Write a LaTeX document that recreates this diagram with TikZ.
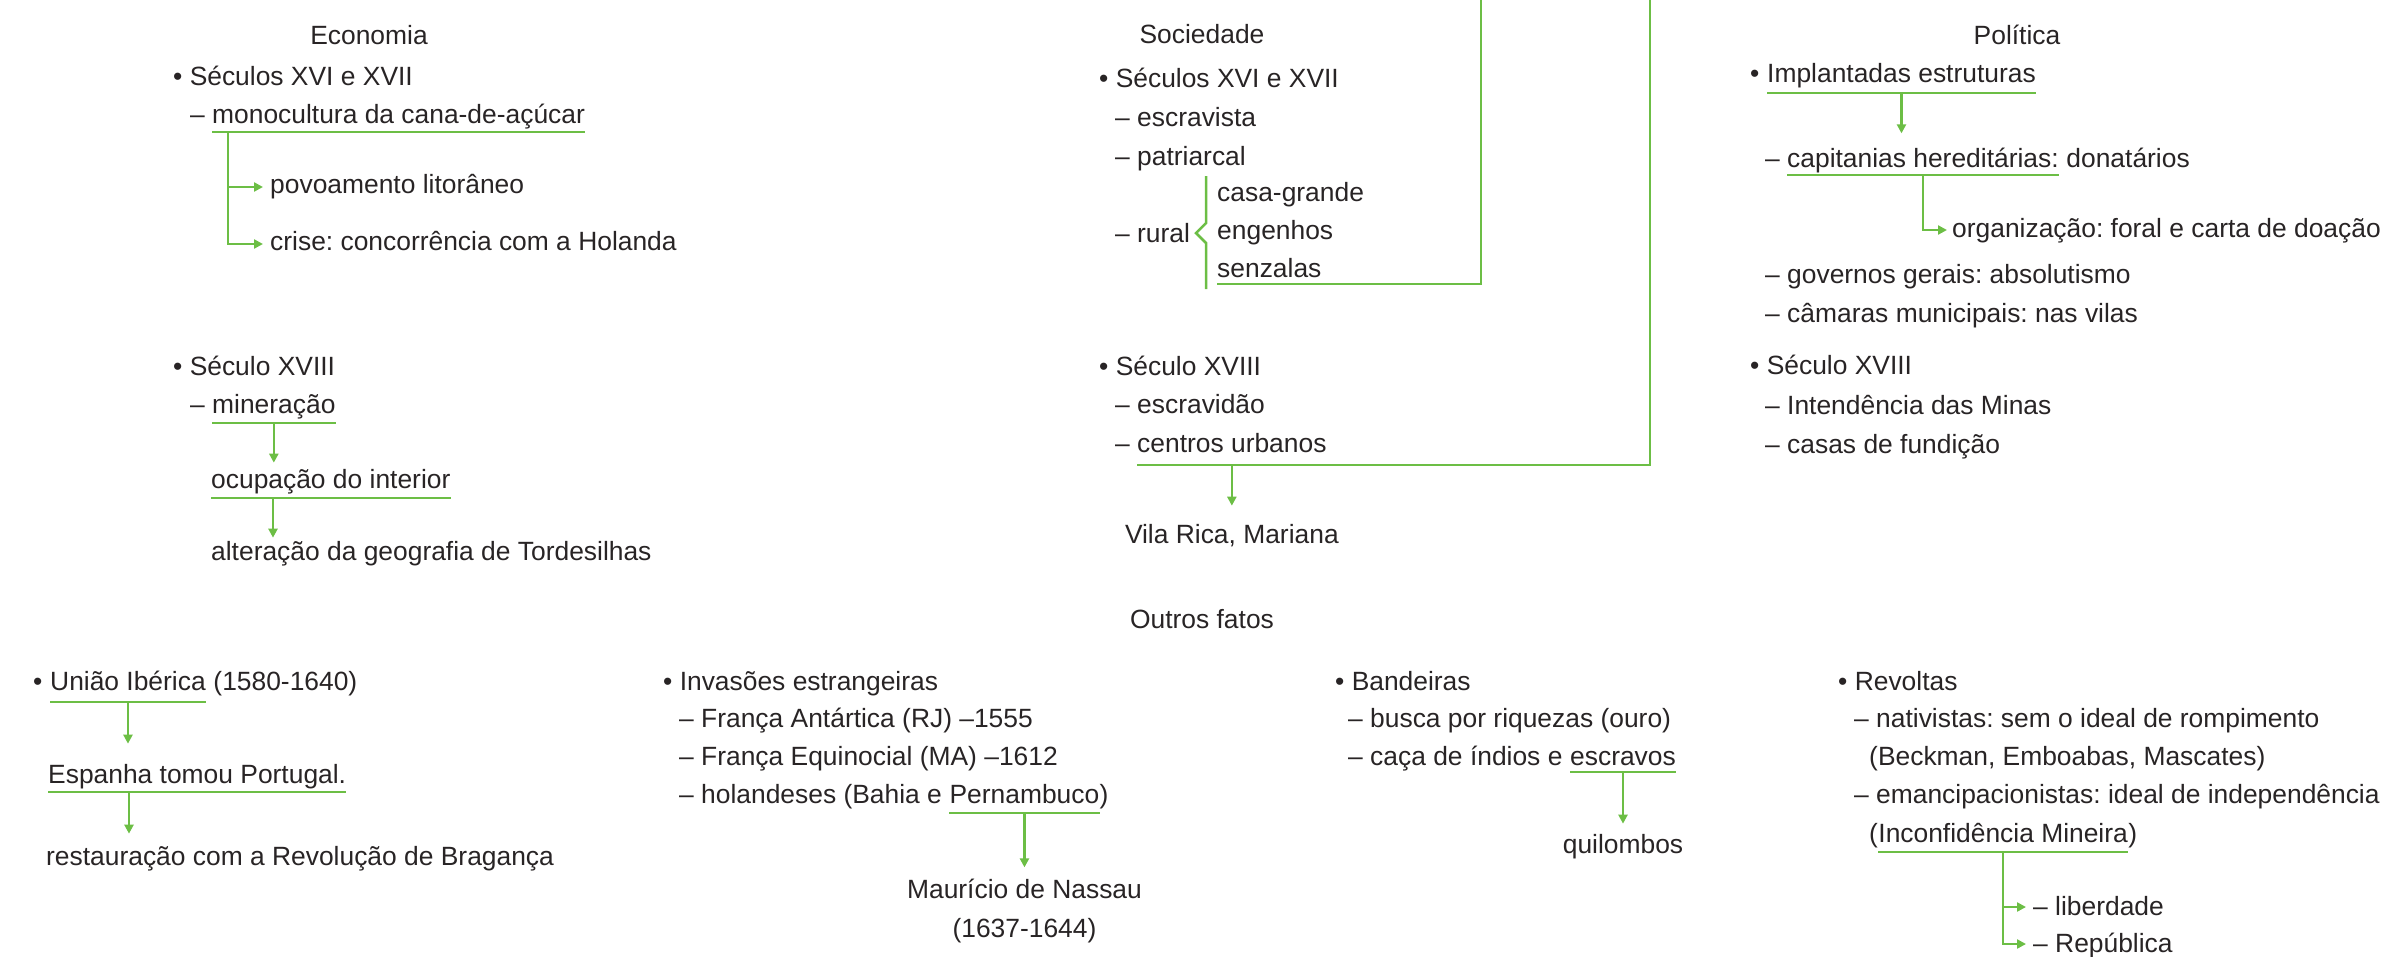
\documentclass[tikz,border=0pt]{standalone}
\usepackage{fontspec}
\setmainfont{Liberation Sans}
\usetikzlibrary{arrows.meta}
\frenchspacing

\definecolor{mapgreen}{RGB}{108,190,69}
\definecolor{ink}{RGB}{40,36,37}

\tikzset{
	txt/.style={anchor=base west, inner sep=0pt, text=ink, font=\fontsize{26.4}{32}\selectfont},
	title/.style={txt, anchor=base},
	uline/.style={draw=mapgreen, line width=2.7pt},
	brace/.style={draw=mapgreen, line width=2.5pt},
	arr/.style={draw=mapgreen, line width=2.5pt, -{Triangle[length=9pt,width=9pt]}}
}

\begin{document}
\begin{tikzpicture}[x=1pt,y=-1pt]
	\useasboundingbox (0,0) rectangle (2385,956);

	% Economia
	\node[title] (econ) at (369,44) {Economia};
	\node[txt] (e1) at (173,85) {• Séculos XVI e XVII};
	\node[txt] (e2d) at (190,123) {–};
	\node[txt] (e2) at (212,123) {monocultura da cana-de-açúcar};
	\node[txt] (povo) at (270,193) {povoamento litorâneo};
	\node[txt] (crise) at (270,250) {crise: concorrência com a Holanda};
	\node[txt] (e3) at (173,375) {• Século XVIII};
	\node[txt] (e4d) at (190,413) {–};
	\node[txt] (e4) at (212,413) {mineração};
	\node[txt] (ocup) at (211,488) {ocupação do interior};
	\node[txt] (alte) at (211,560) {alteração da geografia de Tordesilhas};

	\draw[uline] ([yshift=-9pt]e2.base west) -- ([yshift=-9pt]e2.base east);
	\draw[arr] ([xshift=16pt,yshift=-9pt]e2.base west) |- ([xshift=-7pt,yshift=6pt]povo.base west);
	\draw[arr] ([xshift=16pt,yshift=-9pt]e2.base west) |- ([xshift=-7pt,yshift=6pt]crise.base west);
	\draw[uline] ([yshift=-10pt]e4.base west) -- ([yshift=-10pt]e4.base east);
	\draw[arr, shorten >=6pt] ([yshift=-10pt]e4.base) coordinate (a1) -- (a1 |- ocup.north);
	\draw[uline] ([yshift=-10pt]ocup.base west) -- ([yshift=-10pt]ocup.base east);
	\draw[arr, shorten >=3pt] ([xshift=62pt,yshift=-10pt]ocup.base west) coordinate (a2) -- (a2 |- alte.north);

	% Sociedade
	\node[title] (soc) at (1202,43) {Sociedade};
	\node[txt] (s1) at (1099,87) {• Séculos XVI e XVII};
	\node[txt] (s2) at (1115,126) {– escravista};
	\node[txt] (s3) at (1115,165) {– patriarcal};
	\node[txt] (s4) at (1115,242) {– rural};
	\node[txt] (casa) at (1217,201) {casa-grande};
	\node[txt] (eng) at (1217,239) {engenhos};
	\node[txt] (senz) at (1217,277) {senzalas};
	\node[txt] (s5) at (1099,375) {• Século XVIII};
	\node[txt] (s6) at (1115,413) {– escravidão};
	\node[txt] (s7d) at (1115,452) {–};
	\node[txt] (s7) at (1137,452) {centros urbanos};
	\node[title] (vila) at ([yshift=-91pt]s7.base) {Vila Rica, Mariana};
	\coordinate (socup1) at (1481,0);
	\coordinate (socup2) at (1650,0);

	\draw[brace] ([xshift=-11pt,yshift=25pt]casa.base west) -- ([xshift=-11pt,yshift=16pt]eng.base west)
		-- ([xshift=-21pt,yshift=6pt]eng.base west) -- ([xshift=-11pt,yshift=-4pt]eng.base west)
		-- ([xshift=-11pt,yshift=-12pt]senz.base west);
	\draw[uline] ([yshift=-7pt]senz.base west) -| (socup1);
	\draw[uline] ([yshift=-13pt]s7.base west) -| (socup2);
	\draw[arr, shorten >=18pt] ([yshift=-13pt]s7.base) coordinate (a3) -- (a3 |- vila.north);

	% Politica
	\node[title] (pol) at (2017,44) {Política};
	\node[txt] (p1d) at (1750,82) {•};
	\node[txt] (p1) at (1767,82) {Implantadas estruturas};
	\node[txt] (p2d) at (1765,167) {–};
	\node[txt] (p2) at (1787,167) {capitanias hereditárias:};
	\node[txt] (p2b) at (p2.base east) {\ donatários};
	\node[txt] (org) at (1952,237) {organização: foral e carta de doação};
	\node[txt] (p3) at (1765,283) {– governos gerais: absolutismo};
	\node[txt] (p4) at (1765,322) {– câmaras municipais: nas vilas};
	\node[txt] (p5) at (1750,374) {• Século XVIII};
	\node[txt] (p6) at (1765,414) {– Intendência das Minas};
	\node[txt] (p7) at (1765,453) {– casas de fundição};

	\draw[uline] ([yshift=-11pt]p1.base west) -- ([yshift=-11pt]p1.base east);
	\draw[arr, shorten >=14pt] ([yshift=-11pt]p1.base) coordinate (a4) -- (a4 |- p2.north);
	\draw[uline] ([yshift=-8pt]p2.base west) -- ([yshift=-8pt]p2.base east);
	\draw[arr] ([yshift=-8pt]p2.base) |- ([xshift=-5pt,yshift=7pt]org.base west);

	% Outros fatos
	\node[title] (outros) at (1202,628) {Outros fatos};

	\node[txt] (u1d) at (33,690) {•};
	\node[txt] (u1) at (50,690) {União Ibérica};
	\node[txt] (u1b) at (u1.base east) {\ (1580-1640)};
	\node[txt] (esp) at (48,783) {Espanha tomou Portugal.};
	\node[txt] (rest) at (46,865) {restauração com a Revolução de Bragança};
	\draw[uline] ([yshift=-12pt]u1.base west) -- ([yshift=-12pt]u1.base east);
	\draw[arr, shorten >=20pt] ([yshift=-12pt]u1.base) coordinate (a5) -- (a5 |- esp.north);
	\draw[uline] ([yshift=-9pt]esp.base west) -- ([yshift=-9pt]esp.base east);
	\draw[arr, shorten >=12pt] ([xshift=81pt,yshift=-9pt]esp.base west) coordinate (a8) -- (a8 |- rest.north);

	\node[txt] (i1) at (663,690) {• Invasões estrangeiras};
	\node[txt] (i2) at (679,727) {– França Antártica (RJ) –1555};
	\node[txt] (i3) at (679,765) {– França Equinocial (MA) –1612};
	\node[txt] (i4) at (679,803) {– holandeses (Bahia e};
	\node[txt] (pern) at ([xshift=7.3pt]i4.base east) {Pernambuco};
	\node[txt] (i4b) at (pern.base east) {)};
	\node[title] (maur) at ([yshift=-95pt]pern.base) {Maurício de Nassau};
	\node[title] (maur2) at ([yshift=-39pt]maur.base) {(1637-1644)};
	\draw[uline] ([yshift=-10pt]pern.base west) -- ([yshift=-10pt]pern.base east);
	\draw[arr, shorten >=11pt] ([yshift=-10pt]pern.base) coordinate (a6) -- (a6 |- maur.north);

	\node[txt] (b1) at (1335,690) {• Bandeiras};
	\node[txt] (b2) at (1348,727) {– busca por riquezas (ouro)};
	\node[txt] (b3) at (1348,765) {– caça de índios e};
	\node[txt] (esc) at ([xshift=7.3pt]b3.base east) {escravos};
	\node[title] (quil) at ([yshift=-88pt]esc.base) {quilombos};
	\draw[uline] ([yshift=-7pt]esc.base west) -- ([yshift=-7pt]esc.base east);
	\draw[arr, shorten >=10pt] ([yshift=-7pt]esc.base) coordinate (a7) -- (a7 |- quil.north);

	\node[txt] (r1) at (1838,690) {• Revoltas};
	\node[txt] (r2) at (1854,727) {– nativistas: sem o ideal de rompimento};
	\node[txt] (r3) at (1869,765) {(Beckman, Emboabas, Mascates)};
	\node[txt] (r4) at (1854,803) {– emancipacionistas: ideal de independência};
	\node[txt] (r5a) at (1869,842) {(};
	\node[txt] (r5) at (r5a.base east) {Inconfidência Mineira};
	\node[txt] (r5b) at (r5.base east) {)};
	\node[txt] (lib) at (2033,915) {– liberdade};
	\node[txt] (rep) at (2033,952) {– República};
	\draw[uline] ([yshift=-10pt]r5.base west) -- ([yshift=-10pt]r5.base east);
	\draw[arr] ([yshift=-10pt]r5.base) |- ([xshift=-7pt,yshift=8pt]lib.base west);
	\draw[arr] ([yshift=-10pt]r5.base) |- ([xshift=-7pt,yshift=8pt]rep.base west);
\end{tikzpicture}
\end{document}
